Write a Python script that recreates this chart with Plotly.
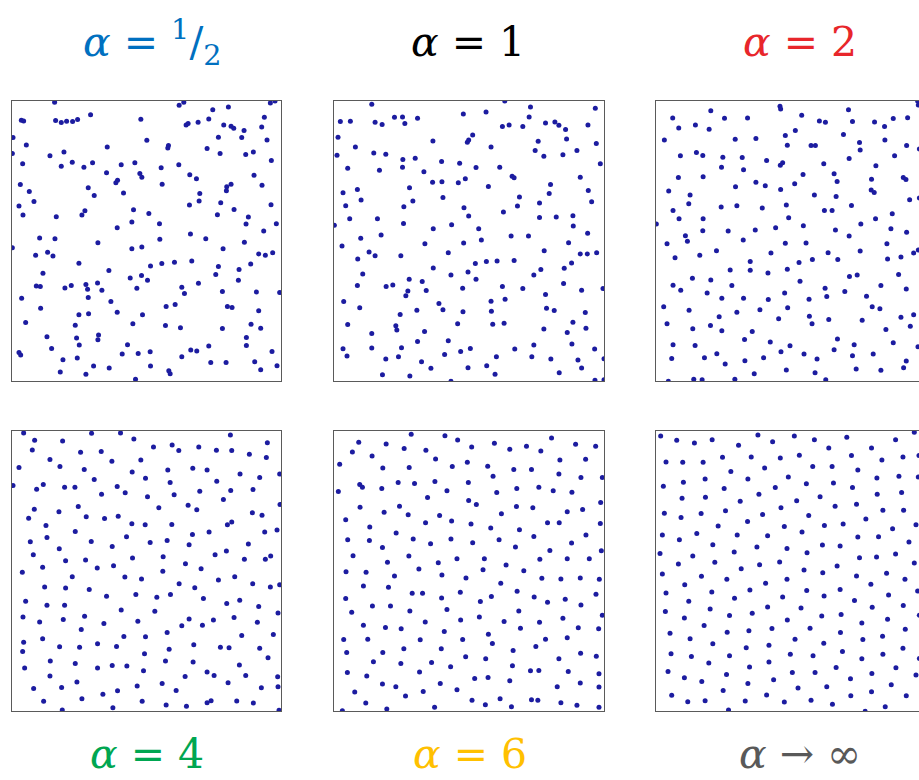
import plotly.graph_objects as go

# Point patterns in a box of BOX_W x BOX_H units, y measured downward from the top edge.
BOX_W = 808
BOX_H = 842

labels = [
    "<i>α</i> = <sup>1</sup>/<sub>2</sub>",
    "<i>α</i> = 1",
    "<i>α</i> = 2",
    "<i>α</i> = 4",
    "<i>α</i> = 6",
    "<i>α</i> → ∞",
]
label_colors = ["#0070C0", "#000000", "#E8262B", "#00A651", "#FFC000", "#595959"]

pts_half = [
    (128,4),(502,13),(516,4),(790,0),(776,6),(28,58),(35,60),(131,59),(148,65),(164,61),(182,62),(197,56),
    (236,41),(387,55),(523,72),(529,68),(559,64),(603,26),(650,18),(591,54),(758,49),(636,72),(658,76),
    (666,82),(697,89),(750,78),(3,110),(43,132),(1,158),(405,118),(470,134),(468,141),(286,138),(620,109),
    (690,110),(766,117),(586,143),(625,158),(702,161),(725,153),(114,165),(156,153),(32,189),(148,196),
    (181,184),(216,199),(242,186),(328,192),(369,186),(448,201),(501,192),(779,179),(284,216),(384,218),
    (390,229),(317,238),(312,246),(534,222),(554,234),(727,223),(25,251),(229,261),(451,250),(658,250),
    (645,258),(644,270),(751,253),(52,272),(247,284),(335,277),(564,278),(66,302),(21,316),(562,301),
    (627,306),(533,313),(778,312),(667,326),(33,343),(133,348),(210,343),(219,330),(365,327),(411,338),
    (617,342),(710,349),(360,364),(443,369),(316,381),(703,370),(794,369),(756,391),(83,412),(129,414),
    (444,416),(536,400),(582,414),
    (1,441),(258,426),(698,425),(360,444),(390,439),(634,444),(71,464),(107,455),(123,466),(741,460),
    (761,464),(783,456),(201,488),(416,496),(450,489),(488,485),(540,481),(717,490),(620,498),(682,507),
    (93,518),(291,510),(355,532),(389,525),(407,539),(612,522),(680,539),(73,556),(85,558),(159,562),
    (178,555),(222,552),(227,566),(257,547),(270,569),(375,563),(510,560),(560,548),(518,579),(632,573),
    (734,574),(804,576),(29,593),(229,591),(297,603),(86,623),(463,618),(490,612),(647,618),(661,621),
    (741,631),(201,643),(230,640),(316,635),(392,643),(41,666),(190,674),(363,670),(461,675),(506,682),
    (632,684),(718,671),(747,683),(105,709),(194,713),(260,704),(258,718),(704,711),(119,744),(202,734),
    (347,733),(591,737),(704,735),(21,756),(26,764),(331,761),(379,759),(415,754),(537,749),(555,752),
    (781,753),(153,778),(196,773),(510,769),(597,786),(643,786),(729,784),(245,797),(292,803),(416,797),
    (471,811),(475,820),(747,808),(796,796),(145,815),(222,822),(371,837),
]

pts_1 = [
    (113,10),(511,0),(588,18),(782,22),(19,62),(49,61),(123,64),(144,71),(181,49),(205,48),(212,68),
    (250,52),(387,39),(455,33),(504,77),(524,72),(565,77),(584,48),(633,66),(661,63),(673,73),(693,86),
    (760,72),(12,109),(64,138),(9,163),(119,156),(155,160),(206,176),(243,172),(296,120),(399,124),
    (403,117),(415,102),(470,138),(611,121),(602,149),(628,166),(696,114),(685,162),(727,149),(785,128),
    (41,202),(136,208),(205,199),(269,213),(322,182),(376,187),(425,200),(496,199),(533,226),(539,231),
    (737,229),(797,189),(70,266),(27,276),(226,261),(295,244),(323,243),(372,246),(393,234),(462,257),
    (648,251),(644,278),(761,269),(81,298),(35,315),(209,318),(236,301),(326,290),(389,321),(555,289),
    (549,316),(615,307),(771,303),(1,374),(47,354),(130,354),(208,368),(403,346),(507,334),(615,350),
    (665,349),(715,345),(716,376),(352,372),(433,384),(297,384),(759,398),(80,413),(141,403),(441,418),
    (530,406),(582,406),
    (24,436),(272,429),(388,427),(702,426),(105,454),(123,465),(200,465),(342,456),(629,450),(737,460),
    (758,460),(786,456),(71,475),(423,489),(456,483),(488,481),(539,480),(711,487),(86,520),(297,502),
    (350,523),(401,514),(425,536),(598,523),(619,507),(689,503),(70,555),(156,558),(176,553),(225,536),
    (264,543),(221,571),(276,570),(215,586),(385,563),(504,558),(565,564),(687,549),(741,569),(805,564),
    (29,603),(77,622),(314,609),(470,602),(512,596),(633,582),(198,642),(248,629),(326,628),(386,634),
    (471,632),(636,623),(659,630),(752,636),(41,672),(185,676),(188,689),(370,670),(475,671),(509,668),
    (715,665),(113,699),(271,693),(628,686),(698,696),(754,683),(250,723),(342,721),(598,734),(712,731),
    (27,745),(113,743),(202,742),(408,744),(379,753),(541,746),(780,746),(39,767),(155,776),(193,769),
    (331,762),(486,769),(592,769),(649,776),(730,779),(808,775),(262,784),(290,804),(401,802),(457,796),
    (741,803),(145,823),(227,827),(482,822),(674,817),(350,843),(781,840),(808,838),
]

pts_2 = [
    (783,0),(785,12),(371,16),(373,24),(164,29),(576,26),(50,51),(118,72),(159,85),(205,52),(274,51),
    (436,43),(489,60),(507,64),(588,62),(654,63),(684,77),(710,53),(753,50),(68,81),(417,89),(25,117),
    (237,115),(299,113),(387,104),(393,133),(464,134),(477,134),(561,101),(609,125),(611,147),(685,117),
    (750,134),(788,144),(73,165),(121,155),(140,164),(200,169),(258,170),(331,179),(372,193),(379,186),
    (502,189),(578,173),(714,165),(196,199),(262,207),(658,195),(67,230),(141,228),(440,221),(533,219),
    (542,242),(645,235),(740,230),(748,236),(38,271),(238,258),(299,244),(327,255),(373,266),(415,249),
    (644,268),(653,275),(102,283),(474,283),(539,287),(759,297),(788,292),(98,309),(195,319),(242,315),
    (318,322),(390,313),(585,314),(51,329),(504,329),(527,329),(707,339),(397,351),(69,354),(141,354),
    (657,354),(1,370),(613,370),(358,381),(441,375),(140,390),(216,391),(297,388),(537,388),(703,384),
    (750,395),(88,405),(578,406),(261,418),
    (33,429),(94,422),(387,428),(449,427),(691,429),(57,471),(131,464),(181,450),(282,483),(344,457),
    (468,477),(515,456),(544,477),(611,451),(693,475),(733,469),(771,457),(785,448),(222,508),(282,509),
    (335,517),(393,506),(428,486),(579,528),(602,523),(726,522),(109,533),(164,538),(431,542),(51,554),
    (74,569),(153,577),(227,555),(506,563),(565,573),(673,555),(749,565),(197,593),(262,593),(336,597),
    (385,577),(458,596),(511,588),(630,587),(23,619),(99,629),(242,635),(311,628),(394,622),(647,619),
    (670,625),(33,670),(110,685),(163,675),(189,649),(197,691),(288,693),(367,655),(459,647),(467,670),
    (517,657),(617,659),(688,687),(733,650),(761,677),(771,643),(51,733),(117,735),(265,717),(342,725),
    (401,736),(543,716),(593,733),(710,727),(784,739),(374,754),(443,761),(533,748),(650,761),(47,774),
    (145,772),(182,760),(266,781),(322,772),(482,776),(588,766),(749,782),(207,791),(390,809),(599,806),
    (673,810),(741,802),(294,820),(476,817),(37,843),(113,837),(138,838),(236,837),(508,838),
]

pts_4 = [
    (35,6),(239,7),(326,6),(656,12),(68,28),(152,30),(366,24),(61,57),(206,64),(268,62),(425,48),(481,42),
    (501,59),(561,48),(614,58),(660,59),(713,70),(767,35),(764,80),(114,86),(144,107),(300,91),(387,87),
    (21,110),(217,116),(361,123),(468,117),(543,112),(586,117),(685,129),(744,140),(804,129),(247,146),
    (401,142),(475,155),(615,151),(3,164),(74,175),(94,161),(158,169),(189,169),(316,167),(340,186),
    (269,190),(407,198),(487,192),(564,181),(657,179),(724,176),(635,206),(67,235),(141,243),(199,227),
    (441,231),(529,223),(555,237),(805,221),(50,262),(223,258),(278,263),(319,256),(722,246),(751,253),
    (102,284),(360,279),(400,282),(480,281),(647,282),(660,274),(190,302),(542,311),(592,304),(759,304),
    (796,298),(55,333),(105,320),(238,332),(344,318),(301,347),(415,335),(466,329),(532,342),(710,340),
    (142,354),(64,372),(161,390),(221,388),(362,382),(454,378),(610,372),(644,361),(698,386),(761,386),
    (777,376),(521,399),(92,410),(256,412),(305,405),(568,414),
    (31,425),(453,422),(181,438),(339,439),(389,445),(620,448),(669,438),(98,469),(161,472),(232,477),
    (502,459),(549,471),(723,459),(776,469),(804,462),(284,497),(372,492),(435,500),(476,492),(575,504),
    (41,512),(105,524),(158,524),(328,538),(429,542),(645,519),(684,509),(741,528),(799,547),(33,559),
    (83,574),(154,567),(218,557),(276,579),(378,572),(510,586),(532,565),(572,584),(605,568),(667,561),
    (737,575),(208,597),(336,618),(401,619),(466,606),(690,615),(785,612),(35,635),(92,625),(143,649),
    (203,650),(257,640),(314,648),(472,656),(546,643),(626,650),(652,652),(744,653),(32,663),(398,670),
    (769,682),(115,692),(190,699),(461,692),(544,695),(38,713),(257,713),(301,705),(345,707),(395,721),
    (683,704),(586,725),(607,735),(702,735),(798,739),(114,737),(520,738),(195,755),(376,767),(451,759),
    (649,757),(65,774),(149,771),(317,781),(493,780),(749,772),(799,769),(95,813),(210,805),(273,792),
    (391,813),(463,824),(524,828),(586,817),(598,811),(675,812),(725,818),(151,839),(303,832),(802,840),
]

pts_6 = [
    (231,10),(332,14),(651,21),(74,34),(156,39),(370,27),(480,37),(55,63),(114,75),(210,53),(275,58),
    (412,48),(526,55),(576,46),(619,60),(723,40),(783,46),(17,100),(146,111),(225,110),(304,84),(354,107),
    (399,94),(460,106),(476,136),(538,116),(591,116),(676,87),(753,85),(673,129),(739,140),(803,140),
    (13,182),(77,161),(85,169),(143,173),(192,155),(241,158),(302,152),(338,180),(402,155),(487,185),
    (547,173),(613,169),(656,180),(712,184),(280,200),(403,209),(426,221),(78,229),(150,244),(196,226),
    (222,252),(316,254),(501,249),(546,227),(595,231),(698,243),(744,236),(798,215),(35,267),(107,289),
    (274,276),(352,271),(410,280),(469,292),(555,297),(639,276),(674,276),(797,278),(41,327),(106,329),
    (186,307),(237,325),(289,339),(350,325),(415,336),(494,327),(598,317),(754,313),(711,337),(145,350),
    (543,349),(646,359),(800,360),(57,375),(224,376),(368,384),(450,384),(616,386),(698,384),(764,384),
    (160,395),(312,396),(515,403),
    (36,423),(96,425),(254,415),(446,417),(568,420),(181,436),(323,433),(395,442),(499,458),(622,443),
    (679,445),(737,442),(794,446),(88,466),(163,470),(234,488),(265,488),(322,502),(378,485),(471,498),
    (548,482),(599,499),(639,515),(692,506),(784,491),(35,504),(115,526),(169,526),(438,513),(739,523),
    (53,545),(227,541),(338,537),(553,541),(88,584),(154,591),(201,595),(273,574),(379,568),(435,559),
    (509,573),(558,593),(615,575),(685,563),(731,592),(792,595),(803,554),(29,627),(101,626),(258,628),
    (330,603),(385,627),(462,611),(474,639),(536,660),(604,648),(633,626),(698,622),(738,668),(785,677),
    (38,666),(146,666),(209,655),(321,655),(394,679),(454,685),(118,694),(200,699),(292,696),(349,709),
    (534,706),(673,685),(40,726),(98,737),(256,725),(421,744),(461,741),(526,751),(588,721),(613,720),
    (701,723),(793,730),(145,761),(318,759),(737,758),(793,770),(62,785),(185,769),(214,797),(267,783),
    (368,778),(668,769),(95,818),(158,836),(25,841),(301,831),(413,810),(453,823),(497,805),(531,829),
    (591,808),(610,810),(679,817),(727,825),(793,831),
]

pts_inf = [
    (14,15),(62,28),(115,36),(168,26),(247,43),(305,12),(349,32),(414,15),(474,26),(517,51),(571,19),
    (645,51),(717,26),(773,4),(30,93),(80,94),(141,94),(199,79),(285,78),(372,81),(429,73),(585,74),
    (676,87),(739,78),(787,74),(224,122),(325,111),(469,107),(527,107),(604,117),(147,144),(275,144),
    (396,138),(531,156),(661,141),(727,136),(785,138),(22,166),(82,154),(204,173),(357,170),(450,159),
    (588,170),(78,202),(148,199),(252,211),(308,190),(421,210),(491,198),(536,226),(600,220),(662,190),
    (735,185),(25,247),(75,260),(135,248),(208,240),(319,251),(374,231),(457,254),(679,238),(741,238),
    (628,265),(560,280),(504,284),(437,304),(274,272),(186,286),(384,287),(708,294),(778,282),(19,313),
    (70,327),(122,308),(243,313),(334,315),(170,342),(302,349),(392,353),(498,343),(551,346),(604,319),
    (666,318),(757,334),(12,368),(110,376),(234,364),(452,366),(609,381),(660,379),(717,370),(67,400),
    (176,395),(255,414),(310,402),(370,394),(443,418),(542,406),(773,397),
    (19,430),(136,437),(212,446),(328,458),(392,446),(499,426),(600,436),(690,428),(745,446),(86,462),
    (30,487),(167,484),(235,503),(281,478),(379,499),(451,480),(503,496),(551,477),(594,510),(643,461),
    (696,493),(783,481),(98,512),(28,543),(85,562),(162,535),(220,555),(288,548),(334,529),(434,532),
    (393,568),(496,556),(554,552),(647,530),(693,566),(740,525),(788,554),(42,608),(144,585),(102,625),
    (170,640),(213,605),(278,601),(347,594),(416,626),(338,644),(461,593),(502,638),(552,606),(616,577),
    (619,627),(678,617),(746,596),(270,652),(45,670),(106,678),(220,676),(402,671),(470,676),(558,663),
    (616,685),(679,671),(739,653),(788,684),(158,698),(280,710),(338,695),(36,723),(85,742),(211,732),
    (137,753),(275,759),(352,748),(408,726),(476,726),(539,711),(582,745),(646,729),(718,712),(778,734),
    (704,763),(201,780),(425,773),(511,769),(47,795),(95,814),(147,811),(267,812),(331,794),(384,815),
    (464,810),(528,822),(583,796),(645,784),(749,796),(686,829),(217,839),(626,843),
]

panels = [pts_half, pts_1, pts_2, pts_4, pts_6, pts_inf]

# Page geometry (paper fractions); the third column runs off the right edge of the page.
W, H = 919, 780
col_px = [(12, 281), (334, 604), (656, 919)]
row_px = [(101, 381), (431, 711)]
col_full_px = 270
label_x_px = [152, 468, 800, 147, 470, 800]

fig = go.Figure()
frame = "#5a5a5a"

for i, pts in enumerate(panels):
    r, c = divmod(i, 3)
    xs = [p[0] for p in pts]
    ys = [p[1] for p in pts]
    ax = "" if i == 0 else str(i + 1)
    fig.add_trace(go.Scatter(
        x=xs, y=ys, mode="markers", xaxis="x" + ax, yaxis="y" + ax,
        marker=dict(size=5, color="#1c1ca0", line=dict(width=0)),
        hoverinfo="skip", showlegend=False,
    ))
    x0, x1 = col_px[c]
    y0, y1 = row_px[r]
    clipped = c == 2
    xmax = BOX_W * (x1 - x0) / col_full_px if clipped else BOX_W
    fig.update_layout(**{
        "xaxis" + ax: dict(domain=[x0 / W, x1 / W], range=[0, xmax], anchor="y" + ax,
                           showgrid=False, zeroline=False, showticklabels=False, ticks="",
                           showline=True, linecolor=frame, linewidth=1, mirror=True,
                           fixedrange=True),
        "yaxis" + ax: dict(domain=[1 - y1 / H, 1 - y0 / H], range=[BOX_H, 0], anchor="x" + ax,
                           showgrid=False, zeroline=False, showticklabels=False, ticks="",
                           showline=True, linecolor=frame, linewidth=1,
                           mirror=False if clipped else True, fixedrange=True),
    })
    # Titles: top row centred above the panels, bottom row sitting on the page's lower edge.
    if r == 0:
        ypos, yanchor = 1 - 42 / H, "middle"
    else:
        ypos, yanchor = 0.0, "bottom"
    fig.add_annotation(
        x=label_x_px[i] / W, y=ypos, xref="paper", yref="paper",
        text=labels[i], showarrow=False, xanchor="center", yanchor=yanchor,
        font=dict(family="DejaVu Serif", size=41, color=label_colors[i]),
    )

fig.update_layout(
    width=W, height=H, margin=dict(l=0, r=0, t=0, b=0),
    paper_bgcolor="white", plot_bgcolor="white",
)

fig.write_html("out.html", config={"displayModeBar": False})
